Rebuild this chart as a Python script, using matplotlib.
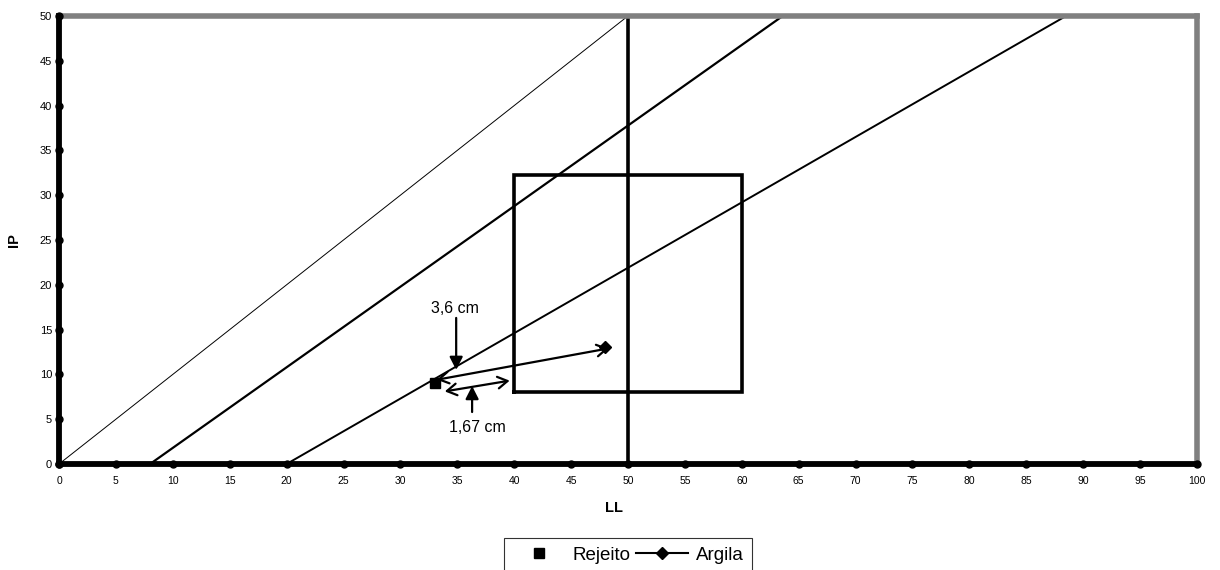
import numpy as np
import matplotlib.pyplot as plt

plt.rcParams['font.family'] = ['Liberation Sans', 'DejaVu Sans']

# axis ticks
ll_ticks = list(range(0, 101, 5))
ip_ticks = list(range(0, 51, 5))

# reference lines (endpoints)
diag_x, diag_y = [0, 50], [0, 50]
u_line_x, u_line_y = [8, 63.6], [0, 50]
a_line_x, a_line_y = [20, 88.5], [0, 50]
ll50_x, ll50_y = [50, 50], [0, 50]

# box
box_x = [40, 60, 60, 40, 40]
box_y = [8, 8, 32.3, 32.3, 8]

# points
rejeito_x, rejeito_y = [33], [9]
argila_x, argila_y = [48], [13]

fig = plt.figure(figsize=(12.2, 5.7), dpi=100)
ax = fig.add_axes([0.0484, 0.186, 0.9327, 0.786])

ax.plot(diag_x, diag_y, color='black', lw=0.7)
ax.plot(u_line_x, u_line_y, color='black', lw=1.6)
ax.plot(a_line_x, a_line_y, color='black', lw=1.4)
ax.plot(ll50_x, ll50_y, color='black', lw=2.6)
ax.plot(box_x, box_y, color='black', lw=2.6, solid_joinstyle='miter')

ax.plot(rejeito_x, rejeito_y, 's', color='black', ms=7, label='Rejeito', zorder=5)
ax.plot(argila_x, argila_y, '-D', color='black', ms=6.5, label='Argila', zorder=5)

# arrows and notes
dbl = dict(arrowstyle='<->,head_length=0.5,head_width=0.3', color='black', lw=1.6,
           mutation_scale=14, shrinkA=0, shrinkB=0)
one = dict(arrowstyle='-|>,head_length=0.55,head_width=0.28', color='black', lw=1.6,
           mutation_scale=14, shrinkA=0, shrinkB=0)
ax.annotate('', xy=(33.2, 9.4), xytext=(48.3, 12.9), arrowprops=dbl)
ax.annotate('', xy=(33.9, 8.1), xytext=(39.6, 9.3), arrowprops=dbl)
ax.annotate('', xy=(34.9, 10.5), xytext=(34.9, 16.3), arrowprops=one)
ax.annotate('', xy=(36.3, 8.7), xytext=(36.3, 5.8), arrowprops=one)
ax.text(34.8, 17.3, '3,6 cm', ha='center', va='center', fontsize=11.5)
ax.text(36.8, 4.1, '1,67 cm', ha='center', va='center', fontsize=11.5)

ax.set_xlim(0, 100)
ax.set_ylim(0, 50)
ax.set_xticks(ll_ticks)
ax.set_yticks(ip_ticks)
ax.tick_params(axis='x', length=0, labelsize=7.5, pad=9)
ax.tick_params(axis='y', length=0, labelsize=8, pad=5)

# round tick marks like the original
ax.plot(ll_ticks, np.zeros(len(ll_ticks)), 'o', color='black', ms=5, clip_on=False, zorder=6)
ax.plot(np.zeros(len(ip_ticks)), ip_ticks, 'o', color='black', ms=5, clip_on=False, zorder=6)

for side in ['left', 'bottom']:
    ax.spines[side].set_linewidth(4.2)
    ax.spines[side].set_color('black')
    ax.spines[side].set_zorder(4)
for side in ['top', 'right']:
    ax.spines[side].set_linewidth(4)
    ax.spines[side].set_color('#808080')

ax.set_xlabel('LL', fontsize=10.5, fontweight='bold')
ax.xaxis.set_label_coords(0.4877, -0.083)
ax.set_ylabel('IP', fontsize=10.5, fontweight='bold')
ax.yaxis.set_label_coords(-0.033, 0.5)

leg = fig.legend(loc='upper center', bbox_to_anchor=(0.5148, 0.0561), ncol=2,
                 fontsize=13.5, frameon=True, fancybox=False, handlelength=2.8,
                 columnspacing=0.3, handletextpad=0.4, borderpad=0.45,
                 borderaxespad=0)
leg.get_frame().set_edgecolor('black')
leg.get_frame().set_linewidth(0.8)

fig.savefig('out.png', dpi=100)
